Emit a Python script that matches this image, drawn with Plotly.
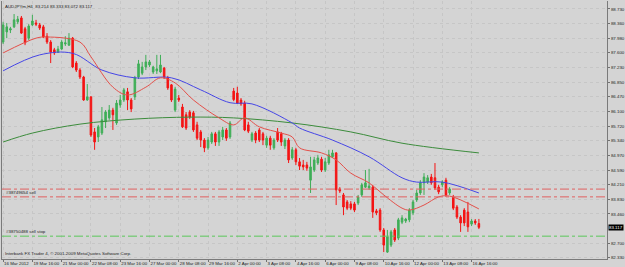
import plotly.graph_objects as go

# ---------------- data (AUDJPYm, H4) ----------------
opens = [87.88,88.14,88.19,88.27,88.40,88.50,88.22,87.98,88.32,88.37,
         88.32,88.27,88.03,87.88,87.68,87.62,87.70,87.83,87.80,87.98,
         87.34,87.16,86.98,86.39,86.47,85.57,85.44,85.54,85.83,85.93,
         86.13,85.80,86.26,86.39,86.60,86.39,86.47,86.98,87.08,87.24,
         87.29,87.11,87.14,87.11,87.21,86.96,86.78,86.13,86.44,86.21,
         86.01,86.08,86.06,85.75,85.57,85.36,85.16,85.31,85.52,85.31,
         85.44,85.62,85.44,86.62,86.57,86.39,86.31,85.75,85.36,85.54,
         85.62,85.52,85.23,85.41,85.16,85.57,85.52,85.21,85.36,84.90,
         85.11,84.80,84.72,84.72,84.33,84.59,84.77,84.87,84.59,84.77,
         84.93,85.03,84.10,83.95,83.77,83.72,83.72,83.74,83.95,84.15,
         84.13,84.15,83.54,83.56,83.05,82.48,82.66,83.05,82.84,83.25,
         83.28,83.31,83.49,83.82,84.00,84.26,84.28,84.41,84.39,84.15,
         84.21,84.33,84.00,83.90,83.64,83.38,83.56,83.51,83.20,83.28,
         83.214]
highs = [88.40,88.37,88.27,88.60,88.55,88.55,88.27,88.34,88.58,88.45,
         88.37,88.32,88.11,87.93,87.73,87.78,87.93,88.03,88.11,88.01,
         87.39,87.21,87.01,86.80,86.49,85.67,85.75,86.21,86.13,86.26,
         86.19,86.39,86.52,86.70,86.70,86.44,87.01,87.42,87.37,87.55,
         87.42,87.27,87.55,87.55,87.24,87.01,86.80,86.73,86.52,86.29,
         86.08,86.13,86.11,85.83,85.62,85.41,85.44,85.57,85.57,85.62,
         85.70,85.67,85.85,86.70,86.73,86.44,86.37,85.83,85.57,85.59,
         85.67,85.57,85.47,85.47,85.41,85.67,85.57,85.41,85.41,85.18,
         85.16,84.90,84.85,84.80,84.93,84.93,84.98,84.93,84.90,85.11,
         85.11,85.05,84.15,84.00,83.82,83.79,83.77,83.95,84.26,84.59,
         84.62,84.21,83.59,83.61,83.10,83.05,83.05,83.10,83.36,83.43,
         83.36,83.61,83.82,84.08,84.33,84.51,84.46,84.49,84.77,84.21,
         84.33,84.39,84.15,83.95,83.69,83.43,83.61,83.77,83.33,83.33,
         83.333]
lows = [87.83,87.98,88.11,88.24,88.34,88.09,87.80,87.93,88.29,88.29,
        88.19,87.98,87.83,87.34,87.55,87.60,87.68,87.78,87.78,87.21,
        87.11,86.93,86.37,86.37,85.44,85.11,85.31,85.49,85.67,85.88,
        85.62,85.75,86.19,86.34,86.13,86.08,86.39,86.93,87.03,87.16,
        87.24,87.06,87.06,87.08,86.93,86.65,86.34,86.08,86.34,85.67,
        85.62,85.90,85.57,85.36,85.18,85.05,85.11,85.26,85.21,85.21,
        85.36,85.34,85.39,86.36,86.29,86.24,85.59,85.54,85.31,85.28,
        85.31,85.23,85.16,85.11,85.11,85.31,85.21,85.13,84.77,84.85,
        84.72,84.59,84.59,84.57,84.00,84.54,84.72,84.54,84.54,84.72,
        84.90,83.69,84.00,83.43,83.56,83.56,83.51,83.69,83.90,84.13,
        84.08,83.36,83.43,83.00,82.48,82.46,82.61,82.74,82.79,83.20,
        83.23,83.25,83.43,83.77,83.95,83.95,84.23,84.21,84.08,83.97,
        84.15,83.90,83.95,83.56,83.33,83.00,83.15,83.00,83.15,83.18,
        83.072]
closes = [88.32,88.27,88.22,88.45,88.47,88.11,87.86,88.29,88.42,88.34,
          88.24,88.01,87.88,87.62,87.60,87.70,87.88,87.86,87.98,87.24,
          87.16,86.98,86.39,86.47,85.49,85.31,85.70,85.88,86.08,86.13,
          86.01,86.31,86.39,86.65,86.39,86.16,86.96,87.32,87.24,87.37,
          87.37,87.24,87.19,87.29,86.98,86.70,86.39,86.67,86.39,85.70,
          85.67,85.95,85.62,85.41,85.36,85.16,85.36,85.52,85.31,85.57,
          85.62,85.41,85.80,86.40,86.31,86.29,85.62,85.59,85.52,85.36,
          85.36,85.36,85.41,85.23,85.36,85.36,85.31,85.36,84.85,85.11,
          84.80,84.69,84.67,84.64,84.67,84.85,84.90,84.59,84.80,84.98,
          85.03,84.08,84.05,83.64,83.61,83.61,83.56,83.90,84.21,84.26,
          84.18,83.51,83.49,83.05,82.66,82.87,83.00,82.79,83.31,83.36,
          83.33,83.56,83.77,84.00,84.26,84.41,84.39,84.26,84.13,84.03,
          84.28,83.95,84.10,83.61,83.38,83.23,83.23,83.13,83.28,83.23,
          83.117]

# moving averages (bar index, price)
ma_red_idx = [0, 9, 12, 21, 24, 30, 34, 39, 43, 47, 52, 59, 63, 66, 70, 76, 79, 81,
              87, 91, 95, 100, 104, 109, 111, 115, 119, 122, 130]
ma_red_val = [87.60, 87.98, 88.01, 87.88, 87.50, 86.72, 86.52, 86.72, 86.96, 86.83,
              86.39, 85.93, 85.75, 85.93, 85.70, 85.54, 85.44, 85.16, 85.03, 84.85,
              84.51, 84.26, 83.95, 83.61, 83.56, 83.69, 83.90, 83.92, 83.59]
ma_blue_idx = [0, 10, 19, 27, 36, 46, 54, 62, 68, 79, 81, 90, 100, 109, 113, 120, 130]
ma_blue_val = [87.14, 87.55, 87.59, 87.16, 86.96, 86.96, 86.65, 86.32, 86.29, 85.80,
               85.67, 85.36, 84.93, 84.39, 84.28, 84.28, 84.00]
ma_green_idx = [0, 8, 21, 36, 51, 63, 79, 95, 109, 130]
ma_green_val = [85.31, 85.54, 85.77, 85.90, 85.95, 85.93, 85.80, 85.57, 85.28, 85.03]

# date labels every 8 bars
date_idx = [0, 8, 16, 24, 32, 40, 48, 56, 64, 72, 80, 88, 96, 104, 112, 120, 128]
date_labels = ["16 Mar 2012", "19 Mar 16:00", "21 Mar 00:00", "22 Mar 08:00",
               "23 Mar 16:00", "27 Mar 00:00", "28 Mar 08:00", "29 Mar 16:00",
               "2 Apr 00:00", "3 Apr 08:00", "4 Apr 16:00", "6 Apr 00:00",
               "9 Apr 08:00", "10 Apr 16:00", "12 Apr 00:00", "13 Apr 08:00",
               "16 Apr 16:00"]

price_ticks = [88.730, 88.360, 87.980, 87.600, 87.230, 86.850, 86.470, 86.100,
               85.720, 85.340, 84.970, 84.590, 84.210, 83.830, 83.460, 82.700, 82.330]

order_sell_a = 84.10
order_sell_b = 83.90
order_sell_stop = 82.89
order_labels = ["#38749654 sell", "#38750488 sell stop"]
last_price = 83.117
title_text = "AUDJPYm,H4  83.214 83.333 83.072 83.117"
footer_text = "Interbank FX Trader 4, \u00a9 2001-2009 MetaQuotes Software Corp."

# ---------------- figure ----------------
BG = "#d4d4d4"
FONT = "Liberation Sans, Arial, sans-serif"
FS = 4.4
TXT = "#1e1e1e"

fig = go.Figure()

fig.add_trace(go.Candlestick(
    x=list(range(len(opens))), open=opens, high=highs, low=lows, close=closes,
    increasing=dict(line=dict(color="#3fae57", width=1), fillcolor="#3fae57"),
    decreasing=dict(line=dict(color="#f41414", width=1), fillcolor="#f41414"),
    whiskerwidth=0, showlegend=False, hoverinfo="skip",
))

fig.add_trace(go.Scatter(x=ma_green_idx, y=ma_green_val, mode="lines",
                         line=dict(color="#3c8c3c", width=1, shape="spline"),
                         showlegend=False, hoverinfo="skip"))
fig.add_trace(go.Scatter(x=ma_blue_idx, y=ma_blue_val, mode="lines",
                         line=dict(color="#4646e6", width=1, shape="spline"),
                         showlegend=False, hoverinfo="skip"))
fig.add_trace(go.Scatter(x=ma_red_idx, y=ma_red_val, mode="lines",
                         line=dict(color="#e4504a", width=1, shape="spline"),
                         showlegend=False, hoverinfo="skip"))

# order lines
for yv, col in [(order_sell_a, "#e06060"), (order_sell_b, "#e06060"),
                (order_sell_stop, "#5cc85c")]:
    fig.add_shape(type="line", xref="paper", x0=0, x1=1, yref="y", y0=yv, y1=yv,
                  line=dict(color=col, width=1, dash="dashdot"))

annotations = [
    dict(text=title_text, xref="paper", yref="paper", x=0, y=1, xanchor="left",
         yanchor="top", xshift=1, yshift=-1, showarrow=False,
         font=dict(size=FS, color=TXT, family=FONT)),
    dict(text=footer_text, xref="paper", yref="paper", x=0, y=0, xanchor="left",
         yanchor="bottom", xshift=1, yshift=1, showarrow=False,
         font=dict(size=FS, color=TXT, family=FONT)),
    dict(text=order_labels[0], xref="paper", yref="y", x=0, y=order_sell_b,
         xanchor="left", yanchor="bottom", xshift=2, yshift=0, showarrow=False,
         font=dict(size=FS, color=TXT, family=FONT)),
    dict(text=order_labels[1], xref="paper", yref="y", x=0, y=order_sell_stop,
         xanchor="left", yanchor="bottom", xshift=2, yshift=0, showarrow=False,
         font=dict(size=FS, color=TXT, family=FONT)),
    dict(text="%.3f" % last_price, xref="paper", yref="y", x=1, y=last_price,
         xanchor="left", yanchor="middle", xshift=1, showarrow=False,
         bgcolor="#000000", borderpad=0,
         font=dict(size=FS, color="#ffffff", family=FONT)),
]

fig.update_layout(
    template="none",
    width=625, height=267,
    margin=dict(l=2, r=18, t=1, b=8, pad=0, autoexpand=False),
    paper_bgcolor=BG, plot_bgcolor=BG,
    showlegend=False,
    annotations=annotations,
    xaxis=dict(range=[-0.3, 165.0], tickvals=date_idx, ticktext=date_labels,
               ticks="outside", ticklen=2, tickcolor="#707070", tickangle=0,
               ticklabelposition="outside right", automargin=False,
               tickfont=dict(size=FS, color=TXT, family=FONT),
               showline=True, linecolor="#7a7a7a", linewidth=1, mirror=False,
               showgrid=True, gridcolor="#c6c6c6", griddash="dot", gridwidth=1,
               zeroline=False, rangeslider=dict(visible=False), fixedrange=True),
    yaxis=dict(range=[82.303, 88.935], side="right", tickvals=price_ticks,
               ticktext=["%.3f" % v for v in price_ticks], automargin=False,
               ticks="outside", ticklen=2, tickcolor="#707070",
               tickfont=dict(size=FS, color=TXT, family=FONT),
               showline=True, linecolor="#7a7a7a", linewidth=1, mirror=True,
               showgrid=True, gridcolor="#c6c6c6", griddash="dot", gridwidth=1,
               zeroline=False, fixedrange=True),
    boxgap=0.4,
)

fig.write_html("out.html")
